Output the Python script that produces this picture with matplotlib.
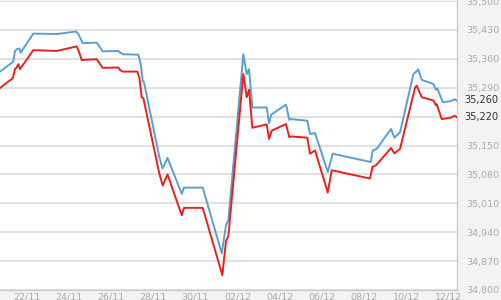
import matplotlib
matplotlib.use("Agg")
import matplotlib.pyplot as plt
import matplotlib.dates as mdates
import pandas as pd
import numpy as np

start = pd.Timestamp("2016-11-22")

# days offset from 22/11 and values
blue_days = [-1.27, -0.64, -0.555, -0.474, -0.351, -0.285, 0.313, 1.423, 2.339, 2.448, 2.657,
             3.321, 3.605, 4.345, 4.426, 4.583, 5.294, 5.408, 5.503, 5.565, 6.290, 6.442,
             6.679, 7.353, 7.462, 8.349, 9.250, 9.454, 9.564, 10.275, 10.436, 10.546,
             10.702, 11.385, 11.494, 11.603, 12.301, 12.457, 12.524, 13.311, 13.439,
             13.677, 14.279, 14.516, 16.319, 16.414, 16.603, 17.282, 17.438, 17.709,
             18.340, 18.577, 18.738, 19.289, 19.416, 19.48, 19.734, 20.08, 20.30, 20.42]
blue_vals = [35329, 35353, 35379, 35383, 35385, 35375, 35421, 35420, 35426, 35420, 35398,
             35399, 35378, 35379, 35375, 35371, 35370, 35347, 35307, 35303, 35122, 35094,
             35120, 35033, 35048, 35048, 34889, 34957, 34969, 35371, 35323, 35335,
             35242, 35242, 35204, 35225, 35249, 35212, 35214, 35210, 35178,
             35180, 35086, 35130, 35110, 35138, 35142, 35190, 35169, 35182,
             35323, 35334, 35309, 35299, 35285, 35288, 35255, 35257, 35262, 35258]

red_days = [-1.27, -0.664, -0.555, -0.474, -0.398, -0.318, 0.313, 1.423, 2.372, 2.467, 2.609,
            3.321, 3.605, 4.345, 4.426, 4.554, 5.247, 5.342, 5.455, 5.531, 6.290, 6.452,
            6.679, 7.353, 7.462, 8.349, 9.279, 9.454, 9.564, 10.275, 10.436, 10.546,
            10.702, 11.385, 11.494, 11.622, 12.301, 12.457, 12.524, 13.311, 13.439,
            13.677, 14.279, 14.469, 16.286, 16.395, 16.570, 17.282, 17.438, 17.709,
            18.420, 18.501, 18.738, 19.289, 19.416, 19.45, 19.687, 20.08, 20.30, 20.42]
red_vals = [35289, 35313, 35335, 35339, 35347, 35335, 35381, 35379, 35390, 35379, 35357,
            35359, 35338, 35339, 35333, 35329, 35329, 35315, 35267, 35265, 35082, 35053,
            35080, 34981, 34999, 34999, 34836, 34919, 34930, 35323, 35267, 35285,
            35193, 35201, 35166, 35186, 35202, 35170, 35172, 35169, 35130,
            35138, 35036, 35090, 35070, 35098, 35102, 35144, 35131, 35142,
            35290, 35295, 35267, 35259, 35247, 35250, 35214, 35217, 35222, 35218]

y_ticks = [34800, 34870, 34940, 35010, 35080, 35150, 35220, 35290, 35360, 35430, 35500]
x_tick_labels = ["22/11", "24/11", "26/11", "28/11", "30/11", "02/12", "04/12",
                 "06/12", "08/12", "10/12", "12/12"]
last_blue_label = "35,260"
last_red_label = "35,220"

W, H = 501, 300
fig = plt.figure(figsize=(W / 100, H / 100), dpi=100)
fig.patch.set_facecolor("#f3f3f3")
ax = fig.add_axes([0, 10 / H, 457 / W, 289 / H])
ax.set_facecolor("white")

bt = [start + pd.Timedelta(days=d) for d in blue_days]
rt = [start + pd.Timedelta(days=d) for d in red_days]
ax.plot(bt, blue_vals, color="#5b9fd0", lw=1.4, zorder=3)
ax.plot(rt, red_vals, color="#e8211f", lw=1.4, zorder=3)

ax.set_xlim(start + pd.Timedelta(days=-1.267), start + pd.Timedelta(days=20.41))
ax.set_ylim(34800, 35500)

ax.yaxis.tick_right()
ax.set_yticks(y_ticks)
ax.set_yticklabels(["" if v == 35220 else f"{v:,}" for v in y_ticks])
ax.tick_params(axis="y", length=0, pad=6.5, labelsize=6.8, labelcolor="#aaaaaa")
for lbl in ax.get_yticklabels():
    lbl.set_fontfamily("DejaVu Sans")
ax.grid(axis="y", color="#dedede", lw=1.3, zorder=1)

xt = [start + pd.Timedelta(days=2 * i) for i in range(len(x_tick_labels))]
ax.set_xticks(xt)
ax.set_xticklabels(x_tick_labels)
ax.tick_params(axis="x", length=0, pad=1.5, labelsize=6.8, labelcolor="#aaaaaa")

for s in ["top", "left"]:
    ax.spines[s].set_visible(False)
ax.spines["right"].set_color("#cccccc")
ax.spines["bottom"].set_color("#cccccc")
ax.spines["right"].set_linewidth(1)
ax.spines["bottom"].set_linewidth(1)

# last value labels
trans = ax.get_yaxis_transform()
ax.text(1.0 + 7 / 457, 35260, last_blue_label, transform=trans, ha="left", va="center",
        fontsize=7, color="#333333", clip_on=False)
ax.text(1.0 + 7 / 457, 35220, last_red_label, transform=trans, ha="left", va="center",
        fontsize=7, color="#333333", clip_on=False)

fig.savefig("out.png", dpi=100, facecolor=fig.get_facecolor())
